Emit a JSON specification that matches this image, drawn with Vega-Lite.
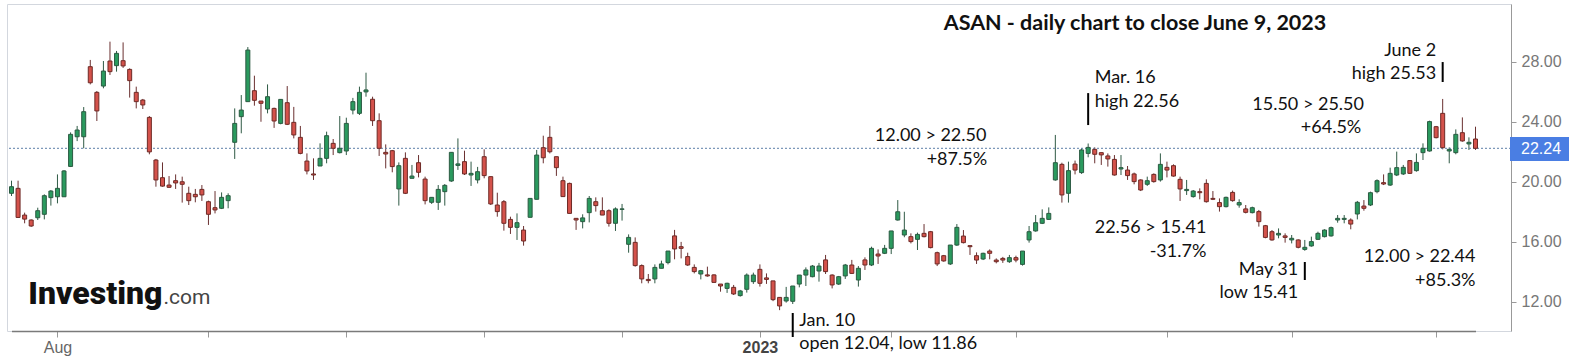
{
"$schema": "https://vega.github.io/schema/vega-lite/v6.json",
"width": 1504, "height": 327,
"autosize": {"type": "none"},
"padding": {"left": 7, "top": 4, "right": 65, "bottom": 28},
"background": "white",
"config": {"view": {"stroke": "#d3d7de", "fill": "white"}, "axis": {"grid": false}},
"datasets": {
"ohlc": [
{"d":"2022-07-21","o":19.24,"h":20.08,"l":19.06,"c":19.68},
{"d":"2022-07-22","o":19.57,"h":20.08,"l":17.61,"c":17.63},
{"d":"2022-07-25","o":17.79,"h":17.95,"l":17.24,"c":17.52},
{"d":"2022-07-26","o":17.46,"h":17.5,"l":17.0,"c":17.06},
{"d":"2022-07-27","o":17.61,"h":18.28,"l":17.46,"c":18.08},
{"d":"2022-07-28","o":17.84,"h":19.17,"l":17.5,"c":19.08},
{"d":"2022-07-29","o":18.95,"h":19.46,"l":18.42,"c":19.39},
{"d":"2022-08-01","o":19.01,"h":20.5,"l":18.57,"c":19.57},
{"d":"2022-08-02","o":19.01,"h":20.79,"l":19.01,"c":20.73},
{"d":"2022-08-03","o":21.03,"h":23.3,"l":20.99,"c":23.17},
{"d":"2022-08-04","o":23.01,"h":23.73,"l":22.72,"c":23.46},
{"d":"2022-08-05","o":23.01,"h":24.99,"l":22.24,"c":24.68},
{"d":"2022-08-08","o":27.68,"h":28.13,"l":26.5,"c":26.61},
{"d":"2022-08-09","o":25.97,"h":26.06,"l":24.06,"c":24.73},
{"d":"2022-08-10","o":26.39,"h":28.06,"l":26.24,"c":27.39},
{"d":"2022-08-11","o":28.06,"h":29.35,"l":27.13,"c":27.35},
{"d":"2022-08-12","o":27.75,"h":28.73,"l":27.35,"c":28.57},
{"d":"2022-08-15","o":28.08,"h":29.3,"l":27.6,"c":27.73},
{"d":"2022-08-16","o":27.5,"h":27.57,"l":25.62,"c":26.75},
{"d":"2022-08-17","o":25.97,"h":26.35,"l":24.9,"c":25.35},
{"d":"2022-08-18","o":25.46,"h":25.53,"l":24.86,"c":25.13},
{"d":"2022-08-19","o":24.3,"h":24.39,"l":21.84,"c":22.0},
{"d":"2022-08-22","o":21.46,"h":21.53,"l":19.68,"c":20.13},
{"d":"2022-08-23","o":20.28,"h":21.3,"l":19.68,"c":19.72},
{"d":"2022-08-24","o":19.79,"h":20.39,"l":19.6,"c":19.64},
{"d":"2022-08-25","o":20.08,"h":20.5,"l":19.53,"c":19.93},
{"d":"2022-08-26","o":20.01,"h":20.35,"l":18.62,"c":19.84},
{"d":"2022-08-29","o":19.24,"h":19.68,"l":18.46,"c":18.75},
{"d":"2022-08-30","o":19.17,"h":19.53,"l":18.64,"c":19.01},
{"d":"2022-08-31","o":19.5,"h":19.79,"l":18.73,"c":19.13},
{"d":"2022-09-01","o":18.68,"h":18.75,"l":17.13,"c":17.84},
{"d":"2022-09-02","o":18.28,"h":19.39,"l":17.9,"c":18.13},
{"d":"2022-09-06","o":18.24,"h":19.3,"l":18.19,"c":18.97},
{"d":"2022-09-07","o":18.75,"h":19.24,"l":18.24,"c":19.08},
{"d":"2022-09-08","o":22.64,"h":24.9,"l":21.53,"c":23.9},
{"d":"2022-09-09","o":24.35,"h":25.79,"l":23.24,"c":24.79},
{"d":"2022-09-12","o":25.35,"h":28.99,"l":25.35,"c":28.79},
{"d":"2022-09-13","o":26.08,"h":27.08,"l":25.08,"c":25.44},
{"d":"2022-09-14","o":25.39,"h":25.39,"l":24.01,"c":25.24},
{"d":"2022-09-15","o":24.86,"h":26.5,"l":24.57,"c":25.68},
{"d":"2022-09-16","o":24.9,"h":24.95,"l":23.6,"c":24.06},
{"d":"2022-09-19","o":23.9,"h":25.5,"l":23.84,"c":25.5},
{"d":"2022-09-20","o":25.28,"h":26.39,"l":23.79,"c":23.84},
{"d":"2022-09-21","o":23.97,"h":25.0,"l":22.9,"c":23.13},
{"d":"2022-09-22","o":22.97,"h":23.73,"l":21.84,"c":21.9},
{"d":"2022-09-23","o":21.39,"h":21.9,"l":20.5,"c":20.73},
{"d":"2022-09-26","o":20.53,"h":21.57,"l":20.13,"c":20.46},
{"d":"2022-09-27","o":21.06,"h":22.57,"l":21.06,"c":21.57},
{"d":"2022-09-28","o":21.57,"h":23.35,"l":21.24,"c":23.08},
{"d":"2022-09-29","o":22.57,"h":22.86,"l":21.79,"c":22.24},
{"d":"2022-09-30","o":21.95,"h":24.39,"l":21.9,"c":22.24},
{"d":"2022-10-03","o":22.06,"h":24.28,"l":21.79,"c":23.9},
{"d":"2022-10-04","o":24.79,"h":25.6,"l":24.5,"c":25.35},
{"d":"2022-10-05","o":24.57,"h":26.35,"l":24.46,"c":25.97},
{"d":"2022-10-06","o":26.0,"h":27.28,"l":25.68,"c":26.13},
{"d":"2022-10-07","o":25.51,"h":25.68,"l":23.73,"c":24.08},
{"d":"2022-10-10","o":24.08,"h":24.57,"l":21.73,"c":22.24},
{"d":"2022-10-11","o":21.97,"h":22.5,"l":20.9,"c":21.86},
{"d":"2022-10-12","o":22.08,"h":22.13,"l":20.64,"c":21.02},
{"d":"2022-10-13","o":19.53,"h":21.3,"l":18.42,"c":21.08},
{"d":"2022-10-14","o":21.57,"h":21.97,"l":19.19,"c":19.24},
{"d":"2022-10-17","o":20.24,"h":21.13,"l":20.24,"c":20.39},
{"d":"2022-10-18","o":21.28,"h":21.79,"l":20.3,"c":20.64},
{"d":"2022-10-19","o":20.19,"h":20.35,"l":18.5,"c":18.75},
{"d":"2022-10-20","o":18.64,"h":18.97,"l":18.53,"c":18.97},
{"d":"2022-10-21","o":18.64,"h":19.79,"l":18.13,"c":19.5},
{"d":"2022-10-24","o":19.35,"h":19.86,"l":18.42,"c":19.77},
{"d":"2022-10-25","o":20.06,"h":21.97,"l":20.0,"c":21.97},
{"d":"2022-10-26","o":21.1,"h":22.9,"l":20.8,"c":21.2},
{"d":"2022-10-27","o":21.35,"h":22.08,"l":20.46,"c":20.53},
{"d":"2022-10-28","o":20.46,"h":21.35,"l":19.73,"c":20.57},
{"d":"2022-10-31","o":20.13,"h":21.0,"l":19.9,"c":20.68},
{"d":"2022-11-01","o":21.68,"h":22.17,"l":20.24,"c":20.42},
{"d":"2022-11-02","o":20.35,"h":20.35,"l":18.46,"c":18.53},
{"d":"2022-11-03","o":18.46,"h":19.28,"l":17.68,"c":18.02},
{"d":"2022-11-04","o":18.68,"h":18.79,"l":16.75,"c":17.24},
{"d":"2022-11-07","o":17.5,"h":17.68,"l":16.53,"c":16.97},
{"d":"2022-11-08","o":16.97,"h":17.9,"l":16.13,"c":17.28},
{"d":"2022-11-09","o":16.79,"h":17.06,"l":15.75,"c":16.06},
{"d":"2022-11-10","o":17.64,"h":18.9,"l":17.64,"c":18.9},
{"d":"2022-11-11","o":18.84,"h":22.13,"l":18.84,"c":21.79},
{"d":"2022-11-14","o":22.28,"h":23.08,"l":21.24,"c":21.61},
{"d":"2022-11-15","o":22.97,"h":23.73,"l":21.9,"c":22.01},
{"d":"2022-11-16","o":21.68,"h":21.68,"l":20.4,"c":20.95},
{"d":"2022-11-17","o":20.08,"h":20.35,"l":19.0,"c":19.02},
{"d":"2022-11-18","o":19.9,"h":19.95,"l":17.9,"c":17.9},
{"d":"2022-11-21","o":17.57,"h":17.57,"l":16.8,"c":17.46},
{"d":"2022-11-22","o":17.35,"h":17.84,"l":16.9,"c":17.6},
{"d":"2022-11-23","o":17.95,"h":19.06,"l":17.3,"c":18.9},
{"d":"2022-11-25","o":18.68,"h":18.97,"l":18.02,"c":18.42},
{"d":"2022-11-28","o":18.08,"h":18.97,"l":17.79,"c":17.79},
{"d":"2022-11-29","o":18.08,"h":18.17,"l":17.02,"c":17.24},
{"d":"2022-11-30","o":17.24,"h":18.3,"l":16.73,"c":18.2},
{"d":"2022-12-01","o":18.17,"h":18.53,"l":17.42,"c":18.2},
{"d":"2022-12-02","o":15.84,"h":16.5,"l":15.28,"c":16.3},
{"d":"2022-12-05","o":15.97,"h":16.3,"l":14.35,"c":14.42},
{"d":"2022-12-06","o":14.42,"h":14.5,"l":13.24,"c":13.53},
{"d":"2022-12-07","o":13.5,"h":13.86,"l":13.24,"c":13.42},
{"d":"2022-12-08","o":13.53,"h":14.5,"l":13.24,"c":14.3},
{"d":"2022-12-09","o":14.24,"h":14.75,"l":14.24,"c":14.53},
{"d":"2022-12-12","o":14.62,"h":15.39,"l":14.5,"c":15.39},
{"d":"2022-12-13","o":16.4,"h":16.8,"l":14.84,"c":15.53},
{"d":"2022-12-14","o":15.68,"h":16.0,"l":14.9,"c":15.57},
{"d":"2022-12-15","o":15.02,"h":15.28,"l":14.4,"c":14.46},
{"d":"2022-12-16","o":14.3,"h":14.5,"l":13.9,"c":14.02},
{"d":"2022-12-19","o":13.86,"h":14.13,"l":13.5,"c":14.08},
{"d":"2022-12-20","o":13.8,"h":14.35,"l":13.68,"c":13.73},
{"d":"2022-12-21","o":13.8,"h":13.84,"l":13.3,"c":13.3},
{"d":"2022-12-22","o":13.19,"h":13.19,"l":12.68,"c":13.06},
{"d":"2022-12-23","o":12.9,"h":13.28,"l":12.6,"c":13.24},
{"d":"2022-12-27","o":12.97,"h":13.13,"l":12.46,"c":12.53},
{"d":"2022-12-28","o":12.42,"h":12.8,"l":12.35,"c":12.73},
{"d":"2022-12-29","o":12.84,"h":13.9,"l":12.62,"c":13.79},
{"d":"2022-12-30","o":13.35,"h":13.95,"l":13.2,"c":13.79},
{"d":"2023-01-03","o":14.17,"h":14.5,"l":13.02,"c":13.24},
{"d":"2023-01-04","o":13.6,"h":13.9,"l":13.2,"c":13.5},
{"d":"2023-01-05","o":13.4,"h":13.4,"l":12.05,"c":12.15},
{"d":"2023-01-06","o":12.3,"h":12.3,"l":11.45,"c":11.73},
{"d":"2023-01-09","o":12.06,"h":13.0,"l":11.95,"c":12.3},
{"d":"2023-01-10","o":12.04,"h":13.06,"l":11.86,"c":13.06},
{"d":"2023-01-11","o":13.19,"h":13.79,"l":12.97,"c":13.79},
{"d":"2023-01-12","o":13.79,"h":14.3,"l":13.06,"c":14.13},
{"d":"2023-01-13","o":13.68,"h":14.46,"l":13.64,"c":14.39},
{"d":"2023-01-17","o":14.06,"h":14.6,"l":13.35,"c":14.39},
{"d":"2023-01-18","o":14.8,"h":15.13,"l":13.86,"c":14.02},
{"d":"2023-01-19","o":13.79,"h":13.84,"l":12.9,"c":13.13},
{"d":"2023-01-20","o":13.19,"h":13.73,"l":13.13,"c":13.68},
{"d":"2023-01-23","o":13.73,"h":14.53,"l":13.53,"c":14.46},
{"d":"2023-01-24","o":14.46,"h":14.8,"l":13.86,"c":13.9},
{"d":"2023-01-25","o":13.46,"h":14.39,"l":13.02,"c":14.24},
{"d":"2023-01-26","o":14.8,"h":14.97,"l":14.13,"c":14.46},
{"d":"2023-01-27","o":14.46,"h":15.68,"l":14.39,"c":15.57},
{"d":"2023-01-30","o":15.19,"h":15.5,"l":14.53,"c":15.06},
{"d":"2023-01-31","o":15.24,"h":15.8,"l":15.19,"c":15.57},
{"d":"2023-02-01","o":15.57,"h":16.73,"l":15.19,"c":16.73},
{"d":"2023-02-02","o":17.46,"h":18.79,"l":17.42,"c":18.01},
{"d":"2023-02-03","o":16.46,"h":18.01,"l":16.31,"c":16.79},
{"d":"2023-02-06","o":16.35,"h":16.57,"l":15.9,"c":16.02},
{"d":"2023-02-07","o":16.17,"h":16.62,"l":15.46,"c":16.5},
{"d":"2023-02-08","o":16.57,"h":17.19,"l":16.3,"c":16.35},
{"d":"2023-02-09","o":16.68,"h":16.73,"l":15.57,"c":15.62},
{"d":"2023-02-10","o":15.28,"h":15.35,"l":14.39,"c":14.53},
{"d":"2023-02-13","o":15.08,"h":15.13,"l":14.68,"c":14.73},
{"d":"2023-02-14","o":14.53,"h":15.79,"l":14.46,"c":15.79},
{"d":"2023-02-15","o":15.79,"h":17.19,"l":15.73,"c":16.97},
{"d":"2023-02-16","o":16.39,"h":16.79,"l":15.9,"c":15.95},
{"d":"2023-02-17","o":15.75,"h":15.75,"l":15.13,"c":15.68},
{"d":"2023-02-21","o":15.08,"h":15.3,"l":14.53,"c":14.79},
{"d":"2023-02-22","o":14.86,"h":15.28,"l":14.79,"c":15.24},
{"d":"2023-02-23","o":15.39,"h":15.5,"l":14.84,"c":15.24},
{"d":"2023-02-24","o":14.79,"h":14.9,"l":14.57,"c":14.68},
{"d":"2023-02-27","o":14.9,"h":15.0,"l":14.6,"c":14.79},
{"d":"2023-02-28","o":14.68,"h":15.13,"l":14.6,"c":14.95},
{"d":"2023-03-01","o":14.95,"h":15.08,"l":14.64,"c":14.79},
{"d":"2023-03-02","o":14.5,"h":15.39,"l":14.42,"c":15.39},
{"d":"2023-03-03","o":16.13,"h":17.06,"l":15.95,"c":16.68},
{"d":"2023-03-06","o":16.73,"h":17.79,"l":16.68,"c":17.28},
{"d":"2023-03-07","o":17.24,"h":18.17,"l":17.19,"c":17.57},
{"d":"2023-03-08","o":17.5,"h":18.3,"l":17.46,"c":17.9},
{"d":"2023-03-09","o":20.13,"h":23.13,"l":20.08,"c":21.28},
{"d":"2023-03-10","o":21.17,"h":21.28,"l":18.62,"c":19.13},
{"d":"2023-03-13","o":19.24,"h":21.35,"l":18.62,"c":20.75},
{"d":"2023-03-14","o":21.19,"h":21.42,"l":20.5,"c":20.79},
{"d":"2023-03-15","o":20.62,"h":22.24,"l":20.53,"c":22.13},
{"d":"2023-03-16","o":21.9,"h":22.56,"l":21.64,"c":22.3},
{"d":"2023-03-17","o":22.17,"h":22.3,"l":21.24,"c":21.84},
{"d":"2023-03-20","o":21.95,"h":21.95,"l":21.13,"c":21.8},
{"d":"2023-03-21","o":21.73,"h":21.9,"l":21.02,"c":21.53},
{"d":"2023-03-22","o":21.5,"h":21.79,"l":20.42,"c":20.46},
{"d":"2023-03-23","o":20.86,"h":21.79,"l":20.46,"c":20.95},
{"d":"2023-03-24","o":20.79,"h":21.06,"l":20.13,"c":20.42},
{"d":"2023-03-27","o":20.53,"h":20.62,"l":19.84,"c":20.02},
{"d":"2023-03-28","o":20.13,"h":20.17,"l":19.39,"c":19.46},
{"d":"2023-03-29","o":19.84,"h":20.35,"l":19.73,"c":20.08},
{"d":"2023-03-30","o":20.5,"h":20.57,"l":19.95,"c":20.02},
{"d":"2023-03-31","o":20.13,"h":21.9,"l":20.02,"c":21.17},
{"d":"2023-04-03","o":20.97,"h":21.35,"l":20.3,"c":20.79},
{"d":"2023-04-04","o":21.08,"h":21.17,"l":20.35,"c":20.39},
{"d":"2023-04-05","o":20.17,"h":20.35,"l":18.73,"c":19.53},
{"d":"2023-04-06","o":19.42,"h":20.13,"l":19.13,"c":19.5},
{"d":"2023-04-10","o":19.02,"h":19.46,"l":18.95,"c":19.39},
{"d":"2023-04-11","o":19.35,"h":19.57,"l":18.84,"c":19.28},
{"d":"2023-04-12","o":19.9,"h":20.17,"l":18.62,"c":18.68},
{"d":"2023-04-13","o":18.9,"h":19.39,"l":18.79,"c":18.84},
{"d":"2023-04-14","o":18.62,"h":18.9,"l":18.02,"c":18.35},
{"d":"2023-04-17","o":18.35,"h":19.02,"l":18.3,"c":18.97},
{"d":"2023-04-18","o":19.3,"h":19.42,"l":18.68,"c":18.75},
{"d":"2023-04-19","o":18.46,"h":18.84,"l":18.28,"c":18.62},
{"d":"2023-04-20","o":18.2,"h":18.46,"l":17.9,"c":17.97},
{"d":"2023-04-21","o":17.95,"h":18.35,"l":17.9,"c":18.28},
{"d":"2023-04-24","o":18.02,"h":18.13,"l":17.02,"c":17.35},
{"d":"2023-04-25","o":17.08,"h":17.13,"l":16.24,"c":16.3},
{"d":"2023-04-26","o":16.68,"h":16.79,"l":16.08,"c":16.13},
{"d":"2023-04-27","o":16.46,"h":16.9,"l":16.24,"c":16.57},
{"d":"2023-04-28","o":16.4,"h":16.57,"l":15.95,"c":16.3},
{"d":"2023-05-01","o":16.13,"h":16.46,"l":15.9,"c":16.24},
{"d":"2023-05-02","o":16.13,"h":16.17,"l":15.57,"c":15.64},
{"d":"2023-05-03","o":15.5,"h":16.13,"l":15.41,"c":15.64},
{"d":"2023-05-04","o":15.73,"h":16.35,"l":15.68,"c":16.02},
{"d":"2023-05-05","o":16.17,"h":16.68,"l":16.13,"c":16.57},
{"d":"2023-05-08","o":16.35,"h":16.84,"l":16.3,"c":16.79},
{"d":"2023-05-09","o":16.4,"h":17.02,"l":16.35,"c":16.95},
{"d":"2023-05-10","o":17.46,"h":17.79,"l":17.28,"c":17.57},
{"d":"2023-05-11","o":17.5,"h":17.79,"l":17.24,"c":17.57},
{"d":"2023-05-12","o":17.46,"h":17.57,"l":16.84,"c":17.19},
{"d":"2023-05-15","o":17.86,"h":18.73,"l":17.5,"c":18.64},
{"d":"2023-05-16","o":18.39,"h":18.79,"l":18.08,"c":18.24},
{"d":"2023-05-17","o":18.46,"h":19.35,"l":18.39,"c":19.28},
{"d":"2023-05-18","o":19.35,"h":20.17,"l":19.24,"c":20.08},
{"d":"2023-05-19","o":19.95,"h":20.5,"l":19.79,"c":19.86},
{"d":"2023-05-22","o":19.79,"h":20.95,"l":19.73,"c":20.57},
{"d":"2023-05-23","o":20.46,"h":22.02,"l":20.39,"c":20.95},
{"d":"2023-05-24","o":20.53,"h":21.13,"l":20.46,"c":20.97},
{"d":"2023-05-25","o":21.42,"h":21.46,"l":20.53,"c":20.57},
{"d":"2023-05-26","o":20.75,"h":21.9,"l":20.68,"c":21.3},
{"d":"2023-05-30","o":21.95,"h":22.57,"l":21.46,"c":22.24},
{"d":"2023-05-31","o":22.06,"h":24.08,"l":22.02,"c":24.02},
{"d":"2023-06-01","o":23.68,"h":23.73,"l":22.9,"c":22.95},
{"d":"2023-06-02","o":24.57,"h":25.53,"l":22.17,"c":22.28},
{"d":"2023-06-05","o":22.06,"h":22.3,"l":21.24,"c":22.17},
{"d":"2023-06-06","o":21.95,"h":23.5,"l":21.84,"c":23.17},
{"d":"2023-06-07","o":23.28,"h":24.3,"l":22.68,"c":22.73},
{"d":"2023-06-08","o":22.53,"h":22.97,"l":22.13,"c":22.64},
{"d":"2023-06-09","o":22.86,"h":23.68,"l":22.13,"c":22.24}
],
"marks": [
{"d":"2023-01-10","a":11.26,"b":9.66},
{"d":"2023-03-16","a":25.92,"b":23.79},
{"d":"2023-05-03","a":14.66,"b":13.46},
{"d":"2023-06-02","a":27.99,"b":26.66}
],
"notesL": [
{"d":"2023-01-11","v":10.39,"t":"Jan. 10"},
{"d":"2023-01-11","v":8.86,"t":"open 12.04, low 11.86"},
{"d":"2023-03-17","v":26.61,"t":"Mar. 16"},
{"d":"2023-03-17","v":24.97,"t":"high 22.56"},
{"d":"2023-03-17","v":16.61,"t":"22.56 > 15.41"},
{"d":"2023-04-21","v":24.79,"t":"15.50 > 25.50"}
],
"notesC": [
{"d":"2023-02-09","v":22.75,"t":"12.00 > 22.50"},
{"d":"2023-02-15","v":21.13,"t":"+87.5%"},
{"d":"2023-05-09","v":23.24,"t":"+64.5%"}
],
"notesR": [
{"d":"2023-04-12","v":15.01,"t":"-31.7%"},
{"d":"2023-06-01","v":28.39,"t":"June 2"},
{"d":"2023-06-01","v":26.84,"t":"high 25.53"},
{"d":"2023-05-02","v":13.79,"t":"May 31"},
{"d":"2023-05-02","v":12.24,"t":"low 15.41"},
{"d":"2023-06-09","v":14.68,"t":"12.00 > 22.44"},
{"d":"2023-06-09","v":13.06,"t":"+85.3%"}
],
"title": [{"d":"2023-02-13","v":30.13,"t":"ASAN - daily chart to close June 9, 2023"}],
"logo": [{"d":"2022-08-23","v":11.86,"t":"Investing","u":".com"}],
"last": [{"d":"2023-06-09","v":22.24,"t":"22.24"}]
},
"layer": [
{"data": {"name": "ohlc"},
 "mark": {"type": "rule", "strokeWidth": 1},
 "encoding": {
  "x": {"field": "d", "type": "ordinal", "title": null,
   "scale": {"type": "point", "padding": 0, "range": [4.5, 1468.5]},
   "axis": {"values": ["2022-08-01","2022-09-01","2022-10-03","2022-11-01","2022-12-01","2023-01-03","2023-02-01","2023-03-01","2023-04-03","2023-05-01","2023-06-01"],
    "labelExpr": "datum.value == '2022-08-01' ? 'Aug' : (datum.value == '2023-01-03' ? '2023' : '')",
    "labelFontWeight": {"condition": {"test": "datum.value == '2023-01-03'", "value": "bold"}, "value": "normal"},
    "labelColor": {"condition": {"test": "datum.value == '2023-01-03'", "value": "#444444"}, "value": "#666666"},
    "labelFontSize": 16, "labelFont": "Liberation Sans", "labelAngle": 0, "labelPadding": 2,
    "tickSize": 6, "tickColor": "#999999", "domainColor": "#7a7a7a", "domainWidth": 1.5, "labelOverlap": false}},
  "y": {"field": "l", "type": "quantitative", "title": null,
   "scale": {"domain": [10.06, 31.86], "nice": false, "zero": false},
   "axis": {"orient": "right", "values": [12,16,20,24,28], "format": ".2f", "tickSize": 5, "tickColor": "#999999", "domainColor": "#999999", "labelFontSize": 16, "labelFont": "Liberation Sans", "labelColor": "#777777", "labelPadding": 5}},
  "y2": {"field": "h"},
  "color": {"condition": {"test": "datum.c >= datum.o", "value": "#2f5a45"}, "value": "#6a3030"}
 }},
{"data": {"values": [{}]},
 "mark": {"type": "rule", "color": "#5d7fa8", "strokeDash": [2, 2], "strokeWidth": 1},
 "encoding": {"y": {"datum": 22.24, "type": "quantitative", "title": null}}},
{"data": {"name": "ohlc"},
 "mark": {"type": "bar", "width": 4, "strokeWidth": 1},
 "encoding": {
  "x": {"field": "d", "type": "ordinal", "title": null},
  "y": {"field": "o", "type": "quantitative", "title": null},
  "y2": {"field": "c"},
  "fill": {"condition": {"test": "datum.c >= datum.o", "value": "#2a9a5e"}, "value": "#d4524b"},
  "stroke": {"condition": {"test": "datum.c >= datum.o", "value": "#2b5a42"}, "value": "#6e2a26"}
 }},
{"data": {"name": "marks"},
 "mark": {"type": "rule", "color": "#000000", "strokeWidth": 2, "clip": false},
 "encoding": {
  "x": {"field": "d", "type": "ordinal", "title": null},
  "y": {"field": "a", "type": "quantitative", "title": null},
  "y2": {"field": "b"}
 }},
{"data": {"name": "notesL"},
 "mark": {"type": "text", "align": "left", "baseline": "alphabetic", "font": "Lato", "fontSize": 18, "color": "#111111", "clip": false},
 "encoding": {
  "x": {"field": "d", "type": "ordinal", "title": null},
  "y": {"field": "v", "type": "quantitative", "title": null},
  "text": {"field": "t"}
 }},
{"data": {"name": "notesC"},
 "mark": {"type": "text", "align": "center", "baseline": "alphabetic", "font": "Lato", "fontSize": 18, "color": "#111111"},
 "encoding": {
  "x": {"field": "d", "type": "ordinal", "title": null},
  "y": {"field": "v", "type": "quantitative", "title": null},
  "text": {"field": "t"}
 }},
{"data": {"name": "notesR"},
 "mark": {"type": "text", "align": "right", "baseline": "alphabetic", "font": "Lato", "fontSize": 18, "color": "#111111"},
 "encoding": {
  "x": {"field": "d", "type": "ordinal", "title": null},
  "y": {"field": "v", "type": "quantitative", "title": null},
  "text": {"field": "t"}
 }},
{"data": {"name": "title"},
 "mark": {"type": "text", "align": "left", "baseline": "alphabetic", "font": "Lato", "fontSize": 21.5, "fontWeight": "bold", "color": "#111111"},
 "encoding": {
  "x": {"field": "d", "type": "ordinal", "title": null},
  "y": {"field": "v", "type": "quantitative", "title": null},
  "text": {"field": "t"}
 }},
{"data": {"name": "logo"},
 "mark": {"type": "text", "align": "right", "baseline": "alphabetic", "font": "Roboto", "fontSize": 32, "fontWeight": 900, "color": "#111111"},
 "encoding": {
  "x": {"field": "d", "type": "ordinal", "title": null},
  "y": {"field": "v", "type": "quantitative", "title": null},
  "text": {"field": "t"}
 }},
{"data": {"name": "logo"},
 "mark": {"type": "text", "align": "left", "baseline": "alphabetic", "font": "Roboto", "fontSize": 21, "dx": 1, "color": "#444444"},
 "encoding": {
  "x": {"field": "d", "type": "ordinal", "title": null},
  "y": {"field": "v", "type": "quantitative", "title": null},
  "text": {"field": "u"}
 }},
{"data": {"name": "last"},
 "mark": {"type": "rule", "color": "#4a7ee3", "strokeWidth": 24, "xOffset": 34.5, "x2Offset": 93.5, "yOffset": 0.7, "y2Offset": 0.7, "clip": false, "strokeCap": "butt"},
 "encoding": {
  "x": {"field": "d", "type": "ordinal", "title": null},
  "x2": {"field": "d"},
  "y": {"field": "v", "type": "quantitative", "title": null}
 }},
{"data": {"name": "last"},
 "mark": {"type": "text", "align": "left", "baseline": "middle", "font": "Liberation Sans", "fontSize": 16, "color": "#ffffff", "dx": 45.5, "dy": 0.7, "clip": false},
 "encoding": {
  "x": {"field": "d", "type": "ordinal", "title": null},
  "y": {"field": "v", "type": "quantitative", "title": null},
  "text": {"field": "t"}
 }}
]
}
